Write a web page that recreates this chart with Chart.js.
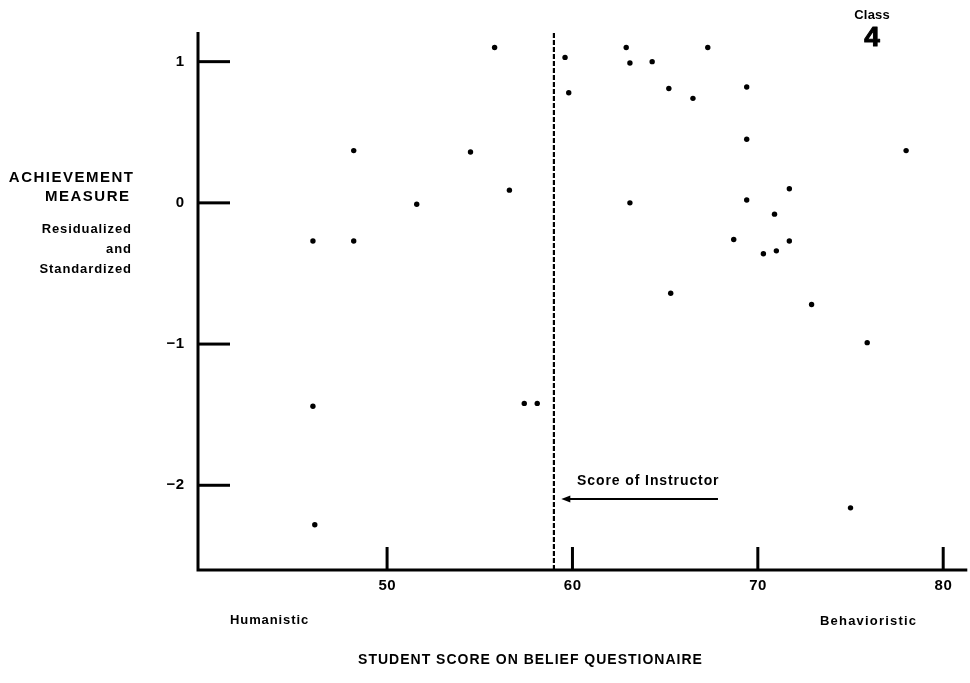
<!DOCTYPE html>
<html>
<head>
<meta charset="utf-8">
<script src="https://cdn.jsdelivr.net/npm/chart.js@4.4.1/dist/chart.umd.min.js"></script>
<style>
  html, body { margin: 0; padding: 0; background: #fff; }
  #wrap { width: 970px; height: 683px; position: relative; }
</style>
</head>
<body>
<div id="wrap"><canvas id="c" width="970" height="683"></canvas></div>
<script>
// ---- data ----
const beliefScore = [55.8, 59.6, 59.8, 48.2, 54.5, 56.6, 51.6, 46.0, 48.2,
  62.9, 67.3, 63.1, 64.3, 65.2, 66.5, 69.4, 69.4, 78.0, 71.7, 63.1, 69.4, 70.9,
  68.7, 71.7, 70.3, 71.0, 65.3, 46.0, 57.4, 58.1, 46.1, 72.9, 75.9, 75.0];
const achievement = [1.10, 1.03, 0.78, 0.37, 0.36, 0.09, -0.01, -0.27, -0.27,
  1.10, 1.10, 0.99, 1.00, 0.81, 0.74, 0.82, 0.45, 0.37, 0.10, 0.00, 0.02, -0.08,
  -0.26, -0.27, -0.36, -0.34, -0.64, -1.44, -1.42, -1.42, -2.28, -0.72, -0.99, -2.16];
const instructorScore = 59.0;
const xTicks = [50, 60, 70, 80];
const xTickLabels = ["50", "60", "70", "80"];
const yTicks = [1, 0, -1, -2];
const yTickLabels = ["1", "0", "\u22121", "\u22122"];
const xRange = [39.8, 81.3];
const yRange = [-2.6, 1.21];

const points = beliefScore.map((x, i) => ({ x: x, y: achievement[i] }));
const instructorLine = [{ x: instructorScore, y: yRange[0] }, { x: instructorScore, y: yRange[1] }];

const FONT = '"Liberation Sans", Arial, Helvetica, sans-serif';

function txt(ctx, s, x, y, font, spacing, align, stroke) {
  ctx.font = font;
  ctx.letterSpacing = (spacing || 0) + 'px';
  ctx.textAlign = 'left';
  const w = ctx.measureText(s).width - (spacing || 0);
  let x0 = x;
  if (align === 'right') x0 = x - w;
  else if (align === 'center') x0 = x - w / 2;
  ctx.fillText(s, x0, y);
  if (stroke) {
    ctx.save();
    ctx.lineWidth = stroke;
    ctx.lineJoin = 'round';
    ctx.strokeText(s, x0, y);
    ctx.restore();
  }
  ctx.letterSpacing = '0px';
}

const decor = {
  id: 'decor',
  afterDatasetsDraw(chart) {
    const ctx = chart.ctx;
    const xs = chart.scales.x, ys = chart.scales.y;
    const a = chart.chartArea;
    ctx.save();
    ctx.strokeStyle = '#000';
    ctx.fillStyle = '#000';
    ctx.lineCap = 'butt';
    ctx.textBaseline = 'middle';
    // axes
    ctx.lineWidth = 3;
    ctx.beginPath();
    ctx.moveTo(a.left, a.top);
    ctx.lineTo(a.left, a.bottom);
    ctx.lineTo(a.right, a.bottom);
    ctx.stroke();
    // y ticks (inward)
    yTicks.forEach((v, i) => {
      const py = ys.getPixelForValue(v);
      ctx.lineWidth = 3;
      ctx.beginPath();
      ctx.moveTo(a.left, py);
      ctx.lineTo(a.left + 32, py);
      ctx.stroke();
      txt(ctx, yTickLabels[i], a.left - 14, py, 'bold 15px ' + FONT, 0.5, 'right');
    });
    // x ticks (inward)
    xTicks.forEach((v, i) => {
      const px = xs.getPixelForValue(v);
      ctx.lineWidth = 3;
      ctx.beginPath();
      ctx.moveTo(px, a.bottom);
      ctx.lineTo(px, a.bottom - 23);
      ctx.stroke();
      txt(ctx, xTickLabels[i], px, a.bottom + 16, 'bold 15px ' + FONT, 0.5, 'center');
    });
    // instructor annotation
    const ax1 = xs.getPixelForValue(59.4), ax2 = xs.getPixelForValue(67.85);
    const ay = ys.getPixelForValue(-2.097);
    ctx.lineWidth = 2;
    ctx.beginPath();
    ctx.moveTo(ax1 + 6, ay);
    ctx.lineTo(ax2, ay);
    ctx.stroke();
    ctx.beginPath();
    ctx.moveTo(ax1, ay);
    ctx.lineTo(ax1 + 9, ay - 3.5);
    ctx.lineTo(ax1 + 9, ay + 3.5);
    ctx.closePath();
    ctx.fill();
    txt(ctx, 'Score of Instructor', xs.getPixelForValue(60.25), ys.getPixelForValue(-1.97), 'bold 14px ' + FONT, 0.9, 'left');
    // left axis title
    txt(ctx, 'ACHIEVEMENT', 133, 178, 'bold 15px ' + FONT, 1.5, 'right');
    txt(ctx, 'MEASURE', 129, 197, 'bold 15px ' + FONT, 1.5, 'right');
    txt(ctx, 'Residualized', 131, 229, 'bold 13px ' + FONT, 0.9, 'right');
    txt(ctx, 'and', 131, 249, 'bold 13px ' + FONT, 0.9, 'right');
    txt(ctx, 'Standardized', 131, 269, 'bold 13px ' + FONT, 0.9, 'right');
    // bottom labels
    txt(ctx, 'Humanistic', 230, 620, 'bold 13px ' + FONT, 0.9, 'left');
    txt(ctx, 'Behavioristic', 820, 621, 'bold 13px ' + FONT, 1.2, 'left');
    txt(ctx, 'STUDENT SCORE ON BELIEF QUESTIONAIRE', 530, 660, 'bold 14px ' + FONT, 1.0, 'center');
    // class label
    txt(ctx, 'Class', 872, 15, 'bold 13px ' + FONT, 0.2, 'center');
    txt(ctx, '4', 872, 38, 'bold 28px ' + FONT, 0, 'center', 1.0);
    ctx.restore();
  }
};

new Chart(document.getElementById('c'), {
  type: 'scatter',
  data: {
    datasets: [
      {
        label: 'Students',
        data: points,
        pointRadius: 2.7,
        pointHoverRadius: 2.7,
        pointBackgroundColor: '#000',
        pointBorderColor: '#000',
        pointBorderWidth: 0,
        showLine: false
      },
      {
        label: 'Instructor',
        data: instructorLine,
        showLine: true,
        pointRadius: 0,
        borderColor: '#000',
        borderWidth: 2.2,
        borderDash: [5, 2],
        fill: false
      }
    ]
  },
  options: {
    responsive: false,
    animation: false,
    devicePixelRatio: 1,
    layout: { padding: { left: 198, right: 0, top: 32, bottom: 113 } },
    plugins: { legend: { display: false }, tooltip: { enabled: false } },
    scales: {
      x: { type: 'linear', min: xRange[0], max: xRange[1], display: false },
      y: { type: 'linear', min: yRange[0], max: yRange[1], display: false }
    }
  },
  plugins: [decor]
});
</script>
</body>
</html>
